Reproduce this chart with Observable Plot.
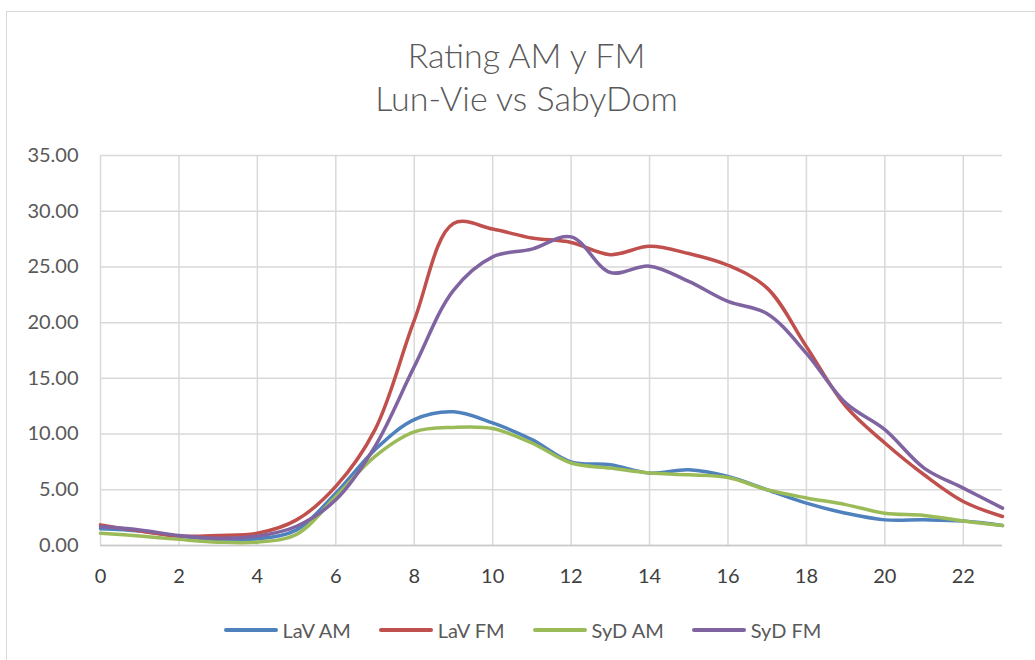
<!DOCTYPE html>
<html>
<head>
<meta charset="utf-8">
<script src="https://cdn.jsdelivr.net/npm/d3@7"></script>
<script src="https://cdn.jsdelivr.net/npm/@observablehq/plot@0.6"></script>
<style>
  html, body { margin: 0; padding: 0; background: #fff; }
  body { width: 1035px; height: 660px; overflow: hidden; position: relative; font-family: Lato, "Open Sans", sans-serif; }
  #frame { position: absolute; left: 6px; top: 11px; width: 1100px; height: 700px; border: 1.5px solid #d9d9d9; box-sizing: border-box; pointer-events: none; }
  #title { height: 130px; box-sizing: border-box; padding-top: 33px; text-align: center; color: #595959; font-size: 34px; font-weight: 300; line-height: 43px; padding-left: 18px; }
  #chart { height: 470px; }
  #legend { height: 60px; display: flex; justify-content: center; align-items: center; padding-left: 10px; box-sizing: border-box; color: #595959; font-size: 20px; }
  .item { display: flex; align-items: center; margin: 0 14px; }
  .sw { width: 54px; height: 4px; border-radius: 2px; margin-right: 5px; }
</style>
</head>
<body>
<div id="frame"></div>
<div id="title">Rating AM y FM<br>Lun-Vie vs SabyDom</div>
<div id="chart"></div>
<div id="legend"></div>
<script>
const hours = [0,1,2,3,4,5,6,7,8,9,10,11,12,13,14,15,16,17,18,19,20,21,22,23];
const seriesNames = ["LaV AM", "LaV FM", "SyD AM", "SyD FM"];
const seriesColors = ["#4F81BD", "#C0504D", "#9BBB59", "#8064A2"];
const lavAM = [1.5, 1.3, 0.85, 0.55, 0.6, 1.4, 4.7, 8.6, 11.3, 12.0, 11.0, 9.5, 7.5, 7.25, 6.5, 6.8, 6.2, 5.0, 3.8, 2.9, 2.3, 2.3, 2.2, 1.8];
const lavFM = [1.85, 1.3, 0.85, 0.9, 1.1, 2.3, 5.3, 10.4, 20.2, 28.9, 28.4, 27.6, 27.2, 26.1, 26.85, 26.2, 25.15, 23.1, 17.85, 12.5, 9.2, 6.35, 3.95, 2.6];
const sydAM = [1.1, 0.85, 0.55, 0.3, 0.3, 1.0, 4.4, 8.0, 10.2, 10.6, 10.5, 9.2, 7.4, 6.95, 6.5, 6.35, 6.1, 5.0, 4.27, 3.67, 2.9, 2.7, 2.2, 1.8];
const sydFM = [1.7, 1.4, 0.9, 0.65, 0.84, 1.73, 4.1, 8.9, 16.05, 22.9, 25.9, 26.6, 27.7, 24.5, 25.07, 23.7, 21.9, 20.8, 17.25, 12.8, 10.4, 6.95, 5.15, 3.35];
const xTicks = [0,2,4,6,8,10,12,14,16,18,20,22];
const yTicks = [0,5,10,15,20,25,30,35];

const allValues = [lavAM, lavFM, sydAM, sydFM];
const data = [];
seriesNames.forEach((name, i) => {
  hours.forEach((h, j) => data.push({series: name, hour: h, value: allValues[i][j]}));
});

const chart = Plot.plot({
  width: 1035,
  height: 470,
  marginLeft: 100,
  marginRight: 33,
  marginTop: 25,
  marginBottom: 55,
  style: { fontFamily: "Lato, 'Open Sans', sans-serif", fontSize: "20px", color: "#595959", background: "#fff" },
  x: { domain: [0, 23], ticks: xTicks, tickSize: 0, tickPadding: 23, label: null },
  y: { domain: [0, 35], ticks: yTicks, tickSize: 0, tickPadding: 22, tickFormat: d3.format(".2f"), label: null },
  color: { domain: seriesNames, range: seriesColors },
  marks: [
    Plot.gridX(xTicks, { stroke: "#d9d9d9", strokeOpacity: 1, strokeWidth: 1.5 }),
    Plot.gridY(yTicks, { stroke: "#d9d9d9", strokeOpacity: 1, strokeWidth: 1.5 }),
    Plot.ruleY([0], { stroke: "#c8c8c8", strokeWidth: 1.5 }),
    Plot.line(data, { x: "hour", y: "value", z: "series", stroke: "series", strokeWidth: 3.5, curve: "catmull-rom" }),
    Plot.axisX({ ticks: xTicks, tickSize: 0, tickPadding: 23, fill: "#404040" }),
    Plot.axisY({ ticks: yTicks, tickSize: 0, tickPadding: 22, tickFormat: d3.format(".2f"), fill: "#595959" })
  ]
});
document.getElementById("chart").appendChild(chart);

const legend = document.getElementById("legend");
seriesNames.forEach((name, i) => {
  const item = document.createElement("div");
  item.className = "item";
  const sw = document.createElement("div");
  sw.className = "sw";
  sw.style.background = seriesColors[i];
  const lab = document.createElement("span");
  lab.textContent = name;
  item.appendChild(sw);
  item.appendChild(lab);
  legend.appendChild(item);
});
</script>
</body>
</html>
